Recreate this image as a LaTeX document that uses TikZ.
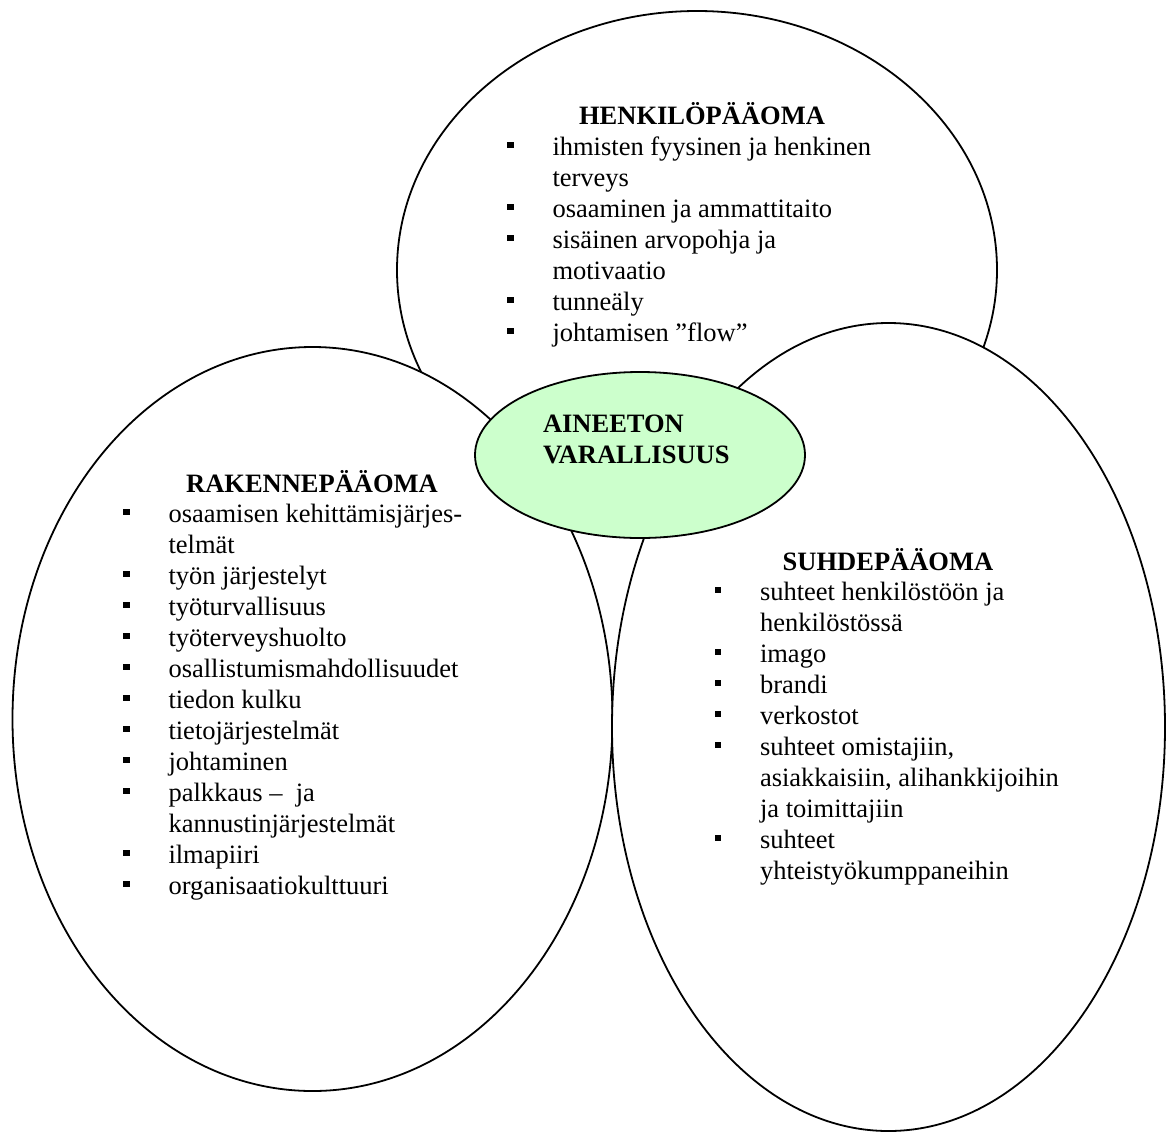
\documentclass[tikz,border=0pt]{standalone}
\usepackage{fontspec}
\setmainfont{Liberation Serif}
\usetikzlibrary{shapes.geometric}
\newcommand\bul{\raisebox{7pt}{\rule{6.5pt}{6.5pt}}}
\definecolor{corefill}{HTML}{CCFFCC}
\begin{document}
\begin{tikzpicture}[x=1pt,y=-1pt,
  ring/.style={draw=black, line width=1.8pt, fill=white, ellipse, inner sep=0pt, outer sep=0pt},
  corering/.style={ring, fill=corefill},
  txt/.style={font=\fontsize{26.5}{31}\selectfont, inner sep=0pt, outer sep=0pt},
  head/.style={txt, font=\fontsize{26.5}{31}\selectfont\bfseries, anchor=base},
  list/.style={txt, anchor=base west}]
\useasboundingbox (0,0) rectangle (1173,1136);
\fill[white] (0,0) rectangle (1173,1136);
\node[ring, minimum width=600pt, minimum height=518pt] (henk) at (697,270) {};
\node[ring, minimum width=600pt, minimum height=744pt] (rak) at (312.5,719) {};
\node[ring, minimum width=553pt, minimum height=808pt] (suh) at (888.5,727) {};
\node[corering, minimum width=330pt, minimum height=166pt] (core) at (640,455) {};

\node[head] (henkhead) at (702,124) {HENKILÖPÄÄOMA};
\node[list] (henklist) at (507,155) {\begin{tabular}[t]{@{}l@{\hspace{39pt}}l@{}}
\bul & ihmisten fyysinen ja henkinen\\
 & terveys\\
\bul & osaaminen ja ammattitaito\\
\bul & sisäinen arvopohja ja\\
 & motivaatio\\
\bul & tunneäly\\
\bul & johtamisen ”flow”
\end{tabular}};

\node[head] (rakhead) at (312,492) {RAKENNEPÄÄOMA};
\node[list] (raklist) at (123,522) {\begin{tabular}[t]{@{}l@{\hspace{39pt}}l@{}}
\bul & osaamisen kehittämisjärjes-\\
 & telmät\\
\bul & työn järjestelyt\\
\bul & työturvallisuus\\
\bul & työterveyshuolto\\
\bul & osallistumismahdollisuudet\\
\bul & tiedon kulku\\
\bul & tietojärjestelmät\\
\bul & johtaminen\\
\bul & palkkaus –\ \ ja\\
 & kannustinjärjestelmät\\
\bul & ilmapiiri\\
\bul & organisaatiokulttuuri
\end{tabular}};

\node[head] (suhhead) at (888,570) {SUHDEPÄÄOMA};
\node[list] (suhlist) at (714.5,600) {\begin{tabular}[t]{@{}l@{\hspace{39pt}}l@{}}
\bul & suhteet henkilöstöön ja\\
 & henkilöstössä\\
\bul & imago\\
\bul & brandi\\
\bul & verkostot\\
\bul & suhteet omistajiin,\\
 & asiakkaisiin, alihankkijoihin\\
 & ja toimittajiin\\
\bul & suhteet\\
 & yhteistyökumppaneihin
\end{tabular}};

\node[txt, font=\fontsize{26.5}{31}\selectfont\bfseries, anchor=base west, align=left] (coretext) at (543,463) {AINEETON\\VARALLISUUS};
\end{tikzpicture}
\end{document}
